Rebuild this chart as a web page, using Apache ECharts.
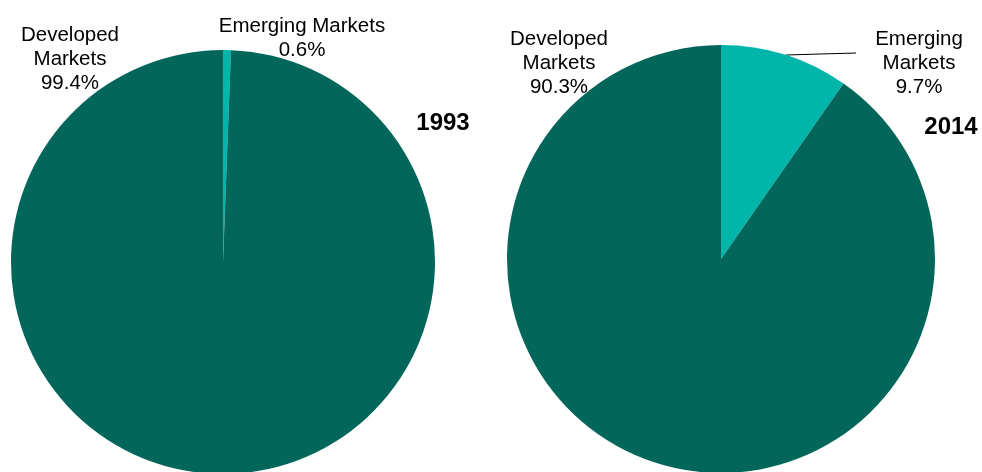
<!DOCTYPE html>
<html>
<head>
<meta charset="utf-8">
<script src="https://cdn.jsdelivr.net/npm/echarts@6/dist/echarts.min.js"></script>
<style>
html,body{margin:0;padding:0;background:#fff;}
#chart{width:982px;height:472px;}
</style>
</head>
<body>
<div id="chart"></div>
<script>
// ---- data ----
var categories = ['Emerging Markets', 'Developed Markets'];
var years = ['1993', '2014'];
var values1993 = [0.6, 99.4];
var values2014 = [9.7, 90.3];
var labelNames1993 = ['Emerging Markets', 'Developed\nMarkets'];
var labelNames2014 = ['Emerging\nMarkets', 'Developed\nMarkets'];

// ---- styling / layout ----
var COLORS = ['#00B5AA', '#03665A'];
var FONT = '"Liberation Sans", Arial, sans-serif';
var labelPos1993 = [[302, 38], [70, 59]];
var labelPos2014 = [[919, 63], [559, 63]];
var leaderLine2014 = [[786, 55], [820, 54], [856, 53]];
var yearPos = [[443, 123], [951, 127]];

function buildData(values) {
  return values.map(function (v, i) {
    return {name: categories[i], value: v, itemStyle: {color: COLORS[i]}};
  });
}

function makeSeries(values, names, center, radius, positions, leader) {
  var data = buildData(values);
  if (leader) {
    data[0].labelLine = {show: true, lineStyle: {color: '#000', width: 1.2}};
  }
  return {
    type: 'pie',
    center: center,
    radius: radius,
    startAngle: 90,
    clockwise: true,
    avoidLabelOverlap: false,
    silent: true,
    animation: false,
    label: {
      show: true,
      position: 'outside',
      fontFamily: FONT,
      fontSize: 20.5,
      lineHeight: 24,
      color: '#000',
      align: 'center',
      formatter: function (p) {
        return names[p.dataIndex] + '\n' + p.value.toFixed(1) + '%';
      }
    },
    labelLine: {show: false},
    labelLayout: function (p) {
      var pos = positions[p.dataIndex];
      var res = {x: pos[0], y: pos[1], align: 'center', verticalAlign: 'middle'};
      if (leader && p.dataIndex === 0) res.labelLinePoints = leader;
      return res;
    },
    data: data
  };
}

var chart = echarts.init(document.getElementById('chart'), null, {renderer: 'canvas'});
chart.setOption({
  backgroundColor: '#ffffff',
  animation: false,
  series: [
    makeSeries(values1993, labelNames1993, [223, 262], 212, labelPos1993, null),
    makeSeries(values2014, labelNames2014, [721, 259], 214, labelPos2014, leaderLine2014)
  ],
  graphic: years.map(function (y, i) {
    return {
      type: 'text',
      x: yearPos[i][0],
      y: yearPos[i][1],
      silent: true,
      style: {
        text: y,
        fontFamily: FONT,
        fontSize: 24,
        fontWeight: 'bold',
        fill: '#000',
        align: 'center',
        verticalAlign: 'middle'
      }
    };
  })
});
</script>
</body>
</html>
